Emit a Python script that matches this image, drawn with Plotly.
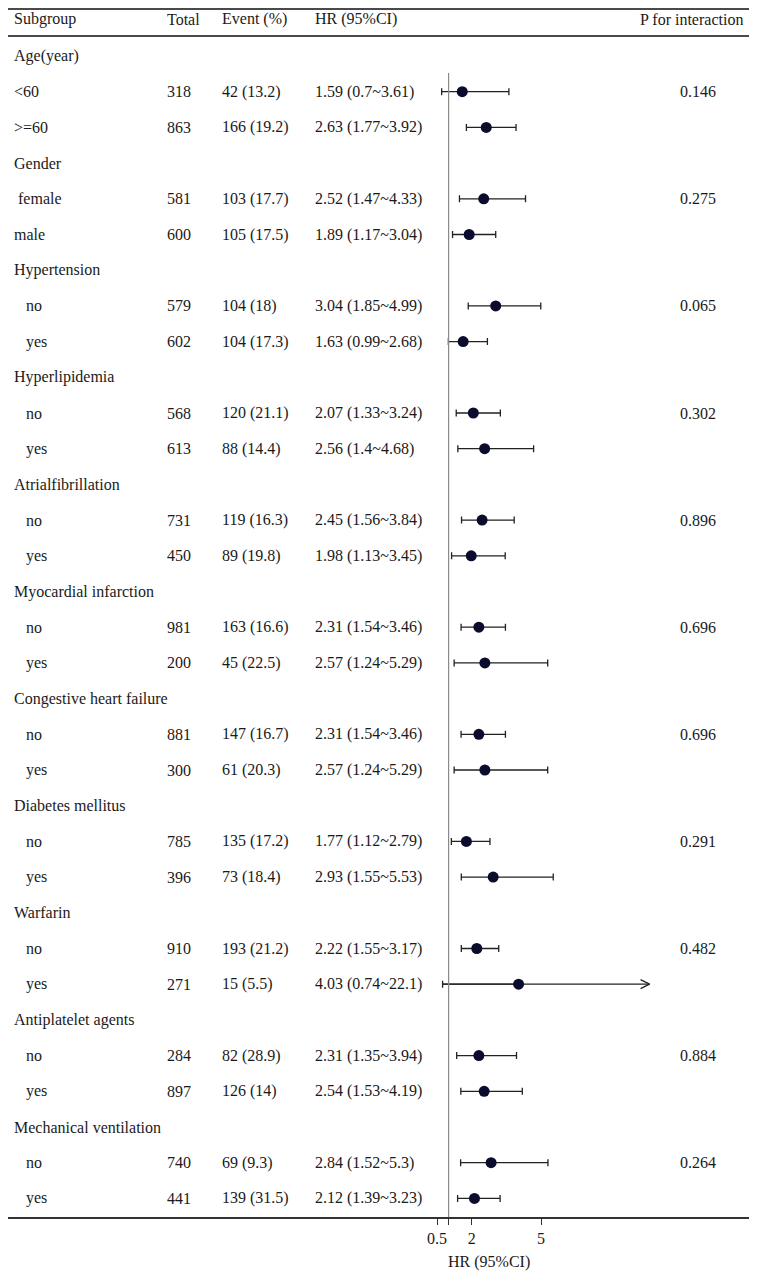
import plotly.graph_objects as go

# ---------------- data ----------------
groups = ["Age(year)", "Gender", "Hypertension", "Hyperlipidemia", "Atrialfibrillation",
          "Myocardial infarction", "Congestive heart failure", "Diabetes mellitus",
          "Warfarin", "Antiplatelet agents", "Mechanical ventilation"]
sub_labels = [["<60", ">=60"], [" female", "male"], ["no", "yes"], ["no", "yes"], ["no", "yes"],
              ["no", "yes"], ["no", "yes"], ["no", "yes"], ["no", "yes"], ["no", "yes"], ["no", "yes"]]
totals = [318, 863, 581, 600, 579, 602, 568, 613, 731, 450, 981, 200, 881, 300,
          785, 396, 910, 271, 284, 897, 740, 441]
events = ["42 (13.2)", "166 (19.2)", "103 (17.7)", "105 (17.5)", "104 (18)", "104 (17.3)",
          "120 (21.1)", "88 (14.4)", "119 (16.3)", "89 (19.8)", "163 (16.6)", "45 (22.5)",
          "147 (16.7)", "61 (20.3)", "135 (17.2)", "73 (18.4)", "193 (21.2)", "15 (5.5)",
          "82 (28.9)", "126 (14)", "69 (9.3)", "139 (31.5)"]
hr = [1.59, 2.63, 2.52, 1.89, 3.04, 1.63, 2.07, 2.56, 2.45, 1.98, 2.31, 2.57,
      2.31, 2.57, 1.77, 2.93, 2.22, 4.03, 2.31, 2.54, 2.84, 2.12]
lo = [0.7, 1.77, 1.47, 1.17, 1.85, 0.99, 1.33, 1.4, 1.56, 1.13, 1.54, 1.24,
      1.54, 1.24, 1.12, 1.55, 1.55, 0.74, 1.35, 1.53, 1.52, 1.39]
hi = [3.61, 3.92, 4.33, 3.04, 4.99, 2.68, 3.24, 4.68, 3.84, 3.45, 3.46, 5.29,
      3.46, 5.29, 2.79, 5.53, 3.17, 22.1, 3.94, 4.19, 5.3, 3.23]
hr_text = ["1.59 (0.7~3.61)", "2.63 (1.77~3.92)", "2.52 (1.47~4.33)", "1.89 (1.17~3.04)",
           "3.04 (1.85~4.99)", "1.63 (0.99~2.68)", "2.07 (1.33~3.24)", "2.56 (1.4~4.68)",
           "2.45 (1.56~3.84)", "1.98 (1.13~3.45)", "2.31 (1.54~3.46)", "2.57 (1.24~5.29)",
           "2.31 (1.54~3.46)", "2.57 (1.24~5.29)", "1.77 (1.12~2.79)", "2.93 (1.55~5.53)",
           "2.22 (1.55~3.17)", "4.03 (0.74~22.1)", "2.31 (1.35~3.94)", "2.54 (1.53~4.19)",
           "2.84 (1.52~5.3)", "2.12 (1.39~3.23)"]
p_inter = ["0.146", "0.275", "0.065", "0.302", "0.896", "0.696", "0.696", "0.291",
           "0.482", "0.884", "0.264"]
headers = ["Subgroup", "Total", "Event (%)", "HR (95%CI)", "P for interaction"]
tick_vals = [0.5, 1, 2, 5]
tick_text = ["0.5", "", "2", "5"]
x_title = "HR (95%CI)"

# ---------------- layout constants (page pixel coordinates) ----------------
PAGE_W, PAGE_H = 757, 1277
OFF = 8                      # default body margin of the html page
W, H = PAGE_W - OFF, PAGE_H - OFF
FONT = "Liberation Serif"
FS = 16
TXT = "#1a1a1a"
row0_px, row_step = 56, 35.7
axis_px = 1217
px_per_unit = 23.1
one_px = 448.6
clip_hi = 9.7

def px2x(p):
    return 1 + (p - one_px) / px_per_unit

def py2row(p):
    return (p - row0_px) / row_step

def py2paper(p):
    return 1 - (p - OFF) / H

def px2paper(p):
    return (p - OFF) / W

fig = go.Figure()
ann = []

def add_text(text, xpx, row, anchor="left"):
    ann.append(dict(text=text, x=px2paper(xpx), xref="paper", y=row, yref="y",
                    xanchor=anchor, yanchor="middle", showarrow=False,
                    font=dict(family=FONT, size=FS, color=TXT)))

# headers
hdr_row = py2row(19)
for h, xp, anc in zip(headers, [12, 165, 220, 313, 745], ["left"] * 4 + ["right"]):
    add_text(h, xp, hdr_row, anc)

row = 0
idx = 0
pt_rows = []
for g, subs, p in zip(groups, sub_labels, p_inter):
    add_text(g, 12, row)
    row += 1
    for j, s in enumerate(subs):
        indent = 12 if g in ("Age(year)", "Gender") else 24
        add_text(s, indent, row)
        add_text(str(totals[idx]), 165, row)
        add_text(events[idx], 220, row)
        add_text(hr_text[idx], 313, row)
        if j == 0:
            add_text(p, 698, row, "center")
        pt_rows.append(row)
        row += 1
        idx += 1

# x axis title
ann.append(dict(text=x_title, x=px2paper(489), xref="paper", y=py2paper(1262), yref="paper",
                xanchor="center", yanchor="middle", showarrow=False,
                font=dict(family=FONT, size=FS, color=TXT)))

# forest points
plus = [min(h2, clip_hi) - v for v, h2 in zip(hr, hi)]
minus = [v - l for v, l in zip(hr, lo)]
normal = [i for i in range(len(hr)) if hi[i] <= clip_hi]
clipped = [i for i in range(len(hr)) if hi[i] > clip_hi]

LC = "#222222"
MC = "#0b0b2e"

fig.add_trace(go.Scatter(
    x=[hr[i] for i in normal], y=[pt_rows[i] for i in normal], mode="markers",
    marker=dict(size=11, color=MC),
    error_x=dict(type="data", symmetric=False, array=[plus[i] for i in normal],
                 arrayminus=[minus[i] for i in normal], color=LC,
                 thickness=1.3, width=3.5),
    showlegend=False, hoverinfo="skip"))

for i in clipped:
    fig.add_trace(go.Scatter(
        x=[lo[i], clip_hi], y=[pt_rows[i]] * 2, mode="lines",
        line=dict(color=LC, width=1.3), showlegend=False, hoverinfo="skip"))
    fig.add_trace(go.Scatter(
        x=[hr[i]], y=[pt_rows[i]], mode="markers",
        marker=dict(size=11, color=MC),
        error_x=dict(type="data", symmetric=False, array=[0], arrayminus=[minus[i]],
                     color=LC, thickness=1.3, width=3.5),
        showlegend=False, hoverinfo="skip"))
    dx = 9 / px_per_unit
    dy = 4.5 / row_step
    fig.add_trace(go.Scatter(
        x=[clip_hi - dx, clip_hi, clip_hi - dx],
        y=[pt_rows[i] - dy, pt_rows[i], pt_rows[i] + dy], mode="lines",
        line=dict(color=LC, width=1.3), showlegend=False, hoverinfo="skip"))

shapes = [
    dict(type="line", xref="paper", yref="paper", x0=0, x1=1,
         y0=py2paper(OFF + 1), y1=py2paper(OFF + 1), line=dict(color="#4a4a4a", width=2)),
    dict(type="line", xref="paper", yref="paper", x0=0, x1=1,
         y0=py2paper(36), y1=py2paper(36), line=dict(color="#4a4a4a", width=2)),
    dict(type="line", xref="x", yref="paper", x0=1, x1=1,
         y0=py2paper(axis_px), y1=py2paper(73), line=dict(color="#8a8a8a", width=1.2)),
]

fig.update_layout(
    width=W, height=H, margin=dict(l=0, r=0, t=0, b=0),
    paper_bgcolor="white", plot_bgcolor="white",
    annotations=ann, shapes=shapes,
    font=dict(family=FONT, size=FS, color=TXT),
    xaxis=dict(range=[px2x(OFF), px2x(PAGE_W)], domain=[0, 1], showgrid=False, zeroline=False,
               showline=True, linecolor="#333333", linewidth=2,
               tickmode="array", tickvals=tick_vals, ticktext=tick_text,
               ticks="outside", ticklen=6, tickcolor="#333333", tickwidth=1.3,
               tickfont=dict(family=FONT, size=FS, color=TXT)),
    yaxis=dict(range=[py2row(axis_px), py2row(OFF)], domain=[py2paper(axis_px), 1],
               showgrid=False, zeroline=False, showticklabels=False, showline=False),
)

fig.write_html("out.html")
